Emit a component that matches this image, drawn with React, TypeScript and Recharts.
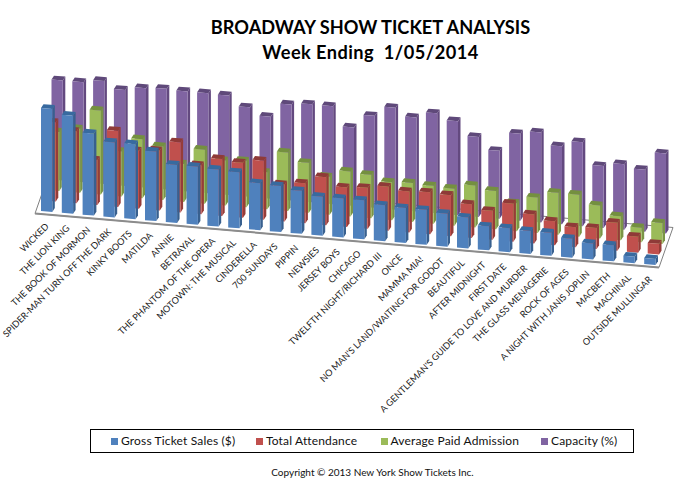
import { Bar, BarChart, Legend, ReferenceArea, XAxis, YAxis } from "recharts";

// values are read off the picture, in the chart's own relative units (the original has no value axis)
const shows = [
  "WICKED", "THE LION KING", "THE BOOK OF MORMON", "SPIDER-MAN TURN OFF THE DARK", "KINKY BOOTS",
  "MATILDA", "ANNIE", "BETRAYAL", "THE PHANTOM OF THE OPERA", "MOTOWN: THE MUSICAL",
  "CINDERELLA", "700 SUNDAYS", "PIPPIN", "NEWSIES", "JERSEY BOYS",
  "CHICAGO", "TWELFTH NIGHT/RICHARD III", "ONCE", "MAMMA MIA!", "NO MAN'S LAND/WAITING FOR GODOT",
  "BEAUTIFUL", "AFTER MIDNIGHT", "FIRST DATE", "A GENTLEMAN'S GUIDE TO LOVE AND MURDER", "THE GLASS MENAGERIE",
  "ROCK OF AGES", "A NIGHT WITH JANIS JOPLIN", "MACBETH", "MACHINAL", "OUTSIDE MULLINGAR",
];
const gross = [103, 98, 82, 75, 75, 69.5, 58, 58, 57, 56, 47, 46, 43, 39, 39, 39, 36, 35, 35, 33, 31, 24, 24, 23, 23, 19, 16, 16, 6.5, 6];
const attendance = [79, 72, 45, 76, 58, 60, 70, 49, 57, 55, 59, 37, 40, 48, 39.5, 41, 44, 41, 42, 41, 33.7, 29, 38, 29, 24, 20, 21, 28, 16, 10.6];
const admission = [59, 64, 84, 45, 59, 53.5, 38, 54, 45, 46.5, 37, 58.5, 50, 38, 45, 43.5, 38, 39, 38, 37, 42, 38.4, 28, 35.4, 42, 42, 33, 24, 14.5, 21];
const capacity = [100, 100, 103, 96, 99.5, 100.7, 100, 100, 99.5, 89.5, 82, 96, 98, 98, 78.5, 92, 102, 94, 100, 94, 80, 68, 87, 90, 78, 84, 62, 65.6, 62, 80];

const seriesNames = ["Gross Ticket Sales ($)", "Total Attendance", "Average Paid Admission", "Capacity (%)"];
const faceColors = ["#4f81bd", "#c0504d", "#9bbb59", "#8064a2"];
const topColors = ["#386a9f", "#8f3a38", "#74903f", "#5f497a"];
const sideColors = ["#38608f", "#963c39", "#7a9546", "#63497f"];

const data = shows.map((name, i) => ({
  name,
  gross: gross[i],
  attendance: attendance[i],
  admission: admission[i],
  capacity: capacity[i],
}));

const FONT = "Lato, sans-serif";
// fake 3D: the floor runs downhill to the right, each series sits one row further back
const SLOPE_PER_BAR = 1.83;
const ROW_DX = 3.5;
const ROW_DY = -10.5;
const DEPTH_DX = 2.5;
const DEPTH_DY = -3.8;

function pts(list: number[][]) {
  return list.map((p) => p.join(",")).join(" ");
}

function Bar3D(props: any) {
  const { x, y, width, height, index, row } = props;
  const left = x + ROW_DX * row;
  const right = left + width;
  const shift = index * SLOPE_PER_BAR + ROW_DY * row;
  const top = y + shift;
  const bottom = y + height + shift;
  const tilt = 0.9;
  return (
    <g>
      <polygon
        points={pts([[right, top + tilt], [right + DEPTH_DX, top + tilt + DEPTH_DY], [right + DEPTH_DX, bottom + tilt + DEPTH_DY], [right, bottom + tilt]])}
        fill={sideColors[row]}
      />
      <polygon
        points={pts([[left, top], [left + DEPTH_DX, top + DEPTH_DY], [right + DEPTH_DX, top + tilt + DEPTH_DY], [right, top + tilt]])}
        fill={topColors[row]}
      />
      <polygon points={pts([[left, top], [right, top + tilt], [right, bottom + tilt], [left, bottom]])} fill={faceColors[row]} />
    </g>
  );
}

function Floor(props: any) {
  const { x, y, width, height } = props;
  const fy = y + height + 2.5;
  const drop = SLOPE_PER_BAR * 29.5;
  const fl = [x - 1, fy];
  const fr = [x + width - 1, fy + drop];
  const br = [fr[0] + 14, fr[1] - 40];
  const bl = [fl[0] + 14, fl[1] - 40];
  return (
    <g>
      <polygon points={pts([fl, fr, br, bl])} fill="#fff" stroke="#7f7f7f" strokeWidth={1} />
      <line x1={fl[0]} y1={fl[1]} x2={fr[0]} y2={fr[1]} stroke="#8c8c8c" strokeWidth={2} />
    </g>
  );
}

function ShowTick(props: any) {
  const { x, y, payload } = props;
  const index = shows.indexOf(payload.value);
  return (
    <text
      transform={`translate(${x + 3} ${y + 16 + index * SLOPE_PER_BAR}) rotate(-45)`}
      textAnchor="end"
      fontFamily={FONT}
      fontSize={9.1}
      fill="#1a1a1a"
    >
      {payload.value}
    </text>
  );
}

function LegendBox() {
  const lefts = [20, 165, 289.5, 450];
  return (
    <div style={{ position: "relative", width: 542, height: 22, border: "1px solid #000", fontFamily: FONT, fontSize: 12, color: "#111" }}>
      {seriesNames.map((n, i) => (
        <div key={n} style={{ position: "absolute", left: lefts[i], top: 0, lineHeight: "22px", whiteSpace: "nowrap", letterSpacing: 0.15 }}>
          <span style={{ display: "inline-block", width: 7, height: 7, background: faceColors[i], marginRight: 3 }} />
          {n}
        </div>
      ))}
    </div>
  );
}

export default function App() {
  return (
    <div style={{ position: "absolute", left: 0, top: 0, width: 680, height: 489, background: "#fff", overflow: "hidden" }}>
      <div style={{ position: "absolute", left: 0, top: 15, width: 741, textAlign: "center", fontFamily: FONT, fontWeight: 700, fontSize: 18.2, lineHeight: "25px", color: "#000" }}>
        BROADWAY SHOW TICKET ANALYSIS
        <br />
        <span style={{ letterSpacing: 0.45 }}>Week Ending&nbsp; 1/05/2014</span>
      </div>
      <BarChart
        width={680}
        height={489}
        data={data}
        margin={{ top: 61, right: 20, bottom: 253, left: 36 }}
        barSize={11.3}
        barGap={-11.3}
        style={{ position: "absolute", left: 0, top: 0 }}
      >
        <XAxis dataKey="name" height={1} interval={0} axisLine={false} tickLine={false} tickSize={0} tickMargin={0} tick={<ShowTick />} />
        <YAxis hide domain={[0, 150]} width={0} />
        <ReferenceArea x1={shows[0]} x2={shows[shows.length - 1]} y1={0} y2={150} ifOverflow="visible" shape={<Floor />} />
        <Bar dataKey="capacity" isAnimationActive={false} shape={(p: any) => <Bar3D {...p} row={3} />} />
        <Bar dataKey="admission" isAnimationActive={false} shape={(p: any) => <Bar3D {...p} row={2} />} />
        <Bar dataKey="attendance" isAnimationActive={false} shape={(p: any) => <Bar3D {...p} row={1} />} />
        <Bar dataKey="gross" isAnimationActive={false} shape={(p: any) => <Bar3D {...p} row={0} />} />
        <Legend content={<LegendBox />} wrapperStyle={{ left: 90, top: 429, width: 544, bottom: "auto" }} />
      </BarChart>
      <div style={{ position: "absolute", left: 0, top: 466, width: 745, textAlign: "center", fontFamily: FONT, fontSize: 10, color: "#111" }}>
        Copyright © 2013 New York Show Tickets Inc.
      </div>
    </div>
  );
}
